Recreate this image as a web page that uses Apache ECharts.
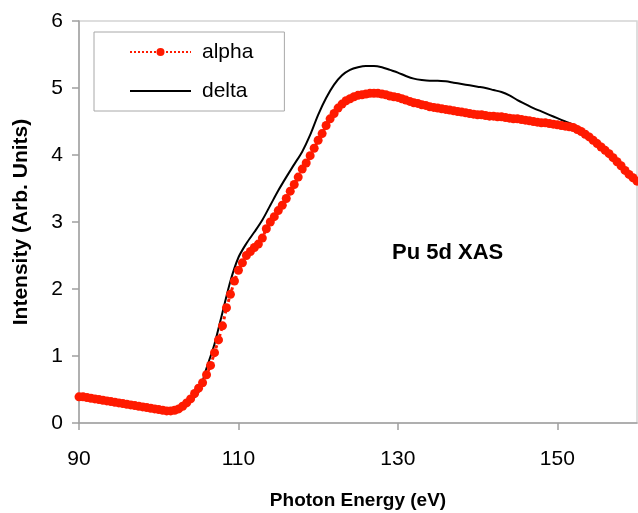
<!DOCTYPE html>
<html>
<head>
<meta charset="utf-8">
<script src="https://cdn.jsdelivr.net/npm/echarts@6/dist/echarts.min.js"></script>
<style>html,body{margin:0;padding:0;background:#fff}#c{width:638px;height:513px}</style>
</head>
<body>
<div id="c"></div>
<script>
// Photon energy grid for the alpha series (eV)
var alphaX = [];
for (var i = 0; i <= 140; i++) alphaX.push(90 + i * 0.5);
var alphaY = [
0.39,0.39,0.38,0.37,0.36,0.35,0.34,0.33,0.32,0.31,
0.30,0.29,0.28,0.27,0.26,0.25,0.24,0.23,0.22,0.21,
0.20,0.19,0.18,0.18,0.19,0.21,0.25,0.30,0.36,0.44,
0.52,0.60,0.72,0.86,1.05,1.24,1.45,1.72,1.92,2.12,
2.28,2.39,2.50,2.56,2.62,2.67,2.76,2.90,3.00,3.08,
3.17,3.25,3.35,3.46,3.56,3.67,3.79,3.88,3.99,4.10,
4.22,4.32,4.44,4.54,4.62,4.70,4.76,4.81,4.84,4.87,
4.89,4.90,4.91,4.92,4.92,4.92,4.91,4.90,4.88,4.87,
4.86,4.84,4.82,4.80,4.78,4.77,4.75,4.74,4.72,4.71,
4.70,4.69,4.68,4.67,4.66,4.65,4.64,4.63,4.62,4.61,
4.60,4.60,4.59,4.58,4.58,4.57,4.57,4.56,4.55,4.54,
4.54,4.53,4.52,4.51,4.50,4.49,4.48,4.48,4.47,4.46,
4.45,4.44,4.43,4.42,4.41,4.38,4.35,4.31,4.27,4.22,
4.17,4.12,4.07,4.02,3.96,3.90,3.84,3.77,3.71,3.66,
3.61];
var deltaX = [90,91,92,93,94,95,96,97,98,99,100,101,102,103,104,105,106,107,108,109,
110,111,112,113,114,115,116,117,118,119,120,121,122,123,124,125,126,127,128,129,
130,131,132,133,134,135,136,137,138,139,140,141,142,143,144,145,146,147,148,149,
150,151,152,153,154,155,156,157,158,159,160];
var deltaY = [0.39,0.38,0.36,0.34,0.32,0.30,0.28,0.26,0.24,0.22,0.20,0.18,0.18,0.22,0.32,0.46,0.82,1.18,1.65,2.12,
2.47,2.68,2.85,3.03,3.25,3.47,3.67,3.86,4.05,4.30,4.60,4.85,5.05,5.19,5.27,5.31,5.33,5.33,5.31,5.27,
5.23,5.18,5.14,5.12,5.11,5.11,5.10,5.08,5.06,5.04,5.02,5.00,4.97,4.94,4.89,4.82,4.76,4.70,4.65,4.60,
4.55,4.50,4.45,4.38,4.28,4.17,4.07,3.96,3.84,3.71,3.61];
var xTicks = [90,110,130,150];
var yTicks = [0,1,2,3,4,5,6];

function pairs(xs, ys){ return xs.map(function(x,i){ return [x, ys[i]]; }); }

var chart = echarts.init(document.getElementById('c'), null, {renderer:'canvas'});
var font = '"Liberation Sans", Arial, sans-serif';
chart.setOption({
  animation:false,
  backgroundColor:'#fff',
  grid:{left:79, right:1, top:21, bottom:90, show:true, borderColor:'#d4d4d4', borderWidth:1.5,
        containLabel:false, outerBoundsMode:'none'},
  legend:{
    left:94, top:32, orient:'vertical',
    padding:[9,31,9,35],
    itemWidth:61, itemHeight:10, itemGap:17,
    backgroundColor:'#fff', borderColor:'#a8a8a8', borderWidth:1, borderRadius:0,
    textStyle:{fontFamily:font, fontSize:21, color:'#000', lineHeight:22, padding:[0,0,0,6]},
    data:[{name:'alpha'}, {name:'delta', itemStyle:{color:'rgba(0,0,0,0)', borderWidth:0}}]
  },
  graphic:[{type:'text', left:392, top:242, style:{text:'Pu 5d XAS', font:'bold 22px ' + font, fill:'#000'}}],
  xAxis:{
    type:'value', min:90, max:160, interval:20,
    name:'Photon Energy (eV)', nameLocation:'middle', nameGap:68,
    nameTextStyle:{fontFamily:font, fontSize:19, fontWeight:'bold', color:'#000'},
    axisLine:{show:true, lineStyle:{color:'#a0a0a0', width:1.5}},
    axisTick:{show:true, length:7, inside:false, customValues:xTicks, lineStyle:{color:'#a0a0a0', width:1.5}},
    axisLabel:{customValues:xTicks, margin:26, fontFamily:font, fontSize:21, color:'#000'},
    splitLine:{show:false}
  },
  yAxis:{
    type:'value', min:0, max:6, interval:1,
    name:'Intensity (Arb. Units)', nameLocation:'middle', nameGap:47,
    nameTextStyle:{fontFamily:font, fontSize:21, fontWeight:'bold', color:'#000'},
    axisLine:{show:true, lineStyle:{color:'#a0a0a0', width:1.5}},
    axisTick:{show:true, length:7, inside:false, customValues:yTicks, lineStyle:{color:'#a0a0a0', width:1.5}},
    axisLabel:{customValues:yTicks, margin:16, fontFamily:font, fontSize:21, color:'#000'},
    splitLine:{show:false}
  },
  series:[
    {name:'delta', type:'line', data:pairs(deltaX, deltaY), showSymbol:false, symbol:'none', smooth:0.3,
     lineStyle:{color:'#000', width:2}, itemStyle:{color:'#000'}, z:2},
    {name:'alpha', type:'line', data:pairs(alphaX, alphaY), symbol:'circle', symbolSize:9, showSymbol:true,
     lineStyle:{color:'#ff1a00', width:3, type:'dotted'}, itemStyle:{color:'#ff1a00'}, z:3}
  ]
});
</script>
</body>
</html>
